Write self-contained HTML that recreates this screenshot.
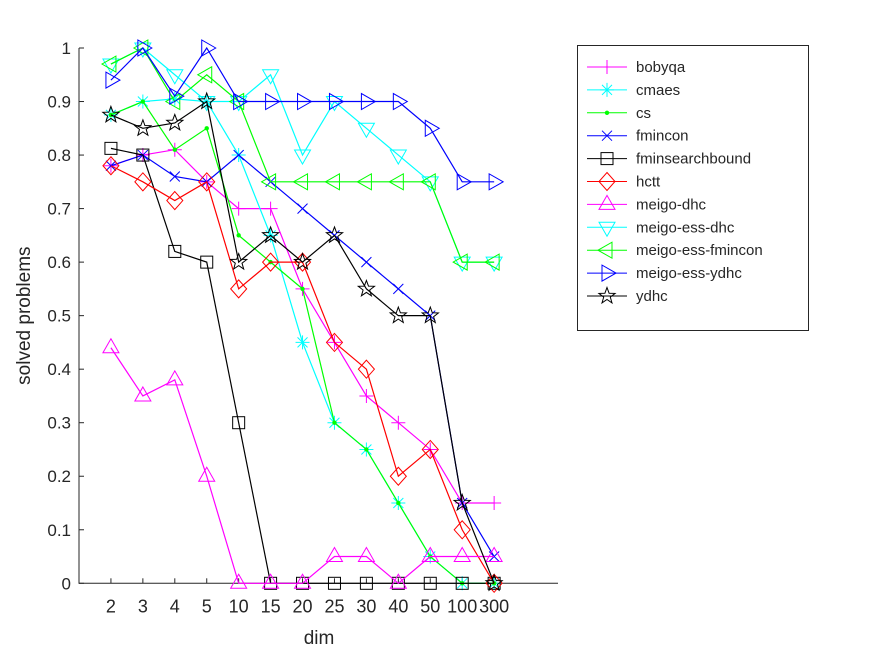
<!DOCTYPE html>
<html><head><meta charset="utf-8"><style>
body{margin:0;background:#fff}
svg text{font-family:"Liberation Sans",Arial,sans-serif;fill:#262626}
</style></head><body>
<svg id="c" width="875" height="656" xmlns="http://www.w3.org/2000/svg"></svg>
<script>
const categories=["2","3","4","5","10","15","20","25","30","40","50","100","300"];
const yTicks=[0,0.1,0.2,0.3,0.4,0.5,0.6,0.7,0.8,0.9,1];
const yTickLabels=["0","0.1","0.2","0.3","0.4","0.5","0.6","0.7","0.8","0.9","1"];
const bobyqa=[0.78,0.80,0.81,0.75,0.70,0.70,0.55,0.45,0.35,0.30,0.25,0.15,0.15];
const cmaes=[0.875,0.9,0.905,0.9,0.8,0.65,0.45,0.3,0.25,0.15,0.05,0,0];
const cs=[0.875,0.9,0.81,0.85,0.65,0.6,0.55,0.3,0.25,0.15,0.05,0,0];
const fmincon=[0.78,0.80,0.76,0.75,0.80,0.75,0.70,0.65,0.60,0.55,0.50,0.15,0.05];
const fminsearchbound=[0.8125,0.80,0.62,0.60,0.30,0,0,0,0,0,0,0,0];
const hctt=[0.78,0.75,0.715,0.75,0.55,0.60,0.60,0.45,0.40,0.20,0.25,0.10,0];
const meigoDhc=[0.44,0.35,0.38,0.20,0,0,0,0.05,0.05,0,0.05,0.05,0.05];
const meigoEssDhc=[0.97,1.0,0.95,0.90,0.90,0.95,0.80,0.90,0.85,0.80,0.75,0.60,0.60];
const meigoEssFmincon=[0.97,1.0,0.90,0.95,0.90,0.75,0.75,0.75,0.75,0.75,0.75,0.60,0.60];
const meigoEssYdhc=[0.94,1.0,0.91,1.0,0.90,0.90,0.90,0.90,0.90,0.90,0.85,0.75,0.75];
const ydhc=[0.875,0.85,0.86,0.90,0.60,0.65,0.60,0.65,0.55,0.50,0.50,0.15,0];
const seriesNames=["bobyqa","cmaes","cs","fmincon","fminsearchbound","hctt","meigo-dhc","meigo-ess-dhc","meigo-ess-fmincon","meigo-ess-ydhc","ydhc"];
const seriesData=[bobyqa,cmaes,cs,fmincon,fminsearchbound,hctt,meigoDhc,meigoEssDhc,meigoEssFmincon,meigoEssYdhc,ydhc];
const colors=["#ff00ff","#00ffff","#00ff00","#0000ff","#000000","#ff0000","#ff00ff","#00ffff","#00ff00","#0000ff","#000000"];
const markers=["plus","star","dot","x","square","diamond","up","down","left","right","pent"];

const NS="http://www.w3.org/2000/svg";
const svg=document.getElementById('c');
const L=79,R=558,T=48,B=583.3;
const xS=i=>L+(i+1)*(R-L)/15;
const yS=v=>B-v*(B-T);
function el(t,a,p){const e=document.createElementNS(NS,t);for(const k in a)e.setAttribute(k,a[k]);(p||svg).appendChild(e);return e;}
function marker(type,x,y,c,g){
  const s=7;let e;
  if(type==="plus")e=el('path',{d:`M${x-s} ${y}H${x+s}M${x} ${y-s}V${y+s}`,stroke:c,fill:'none'},g);
  else if(type==="x")e=el('path',{d:`M${x-5} ${y-5}L${x+5} ${y+5}M${x-5} ${y+5}L${x+5} ${y-5}`,stroke:c,fill:'none'},g);
  else if(type==="star")e=el('path',{d:`M${x-s} ${y}H${x+s}M${x} ${y-s}V${y+s}M${x-5} ${y-5}L${x+5} ${y+5}M${x-5} ${y+5}L${x+5} ${y-5}`,stroke:c,fill:'none'},g);
  else if(type==="dot")e=el('circle',{cx:x,cy:y,r:2.2,fill:c},g);
  else if(type==="square")e=el('rect',{x:x-6,y:y-6,width:12,height:12,stroke:c,fill:'none'},g);
  else if(type==="diamond")e=el('path',{d:`M${x} ${y-9}L${x+8} ${y}L${x} ${y+9}L${x-8} ${y}Z`,stroke:c,fill:'none'},g);
  else if(type==="up")e=el('path',{d:`M${x} ${y-9}L${x+8} ${y+5}L${x-8} ${y+5}Z`,stroke:c,fill:'none'},g);
  else if(type==="down")e=el('path',{d:`M${x} ${y+9}L${x+8} ${y-5}L${x-8} ${y-5}Z`,stroke:c,fill:'none'},g);
  else if(type==="left")e=el('path',{d:`M${x-9} ${y}L${x+5} ${y-8}L${x+5} ${y+8}Z`,stroke:c,fill:'none'},g);
  else if(type==="right")e=el('path',{d:`M${x+9} ${y}L${x-5} ${y-8}L${x-5} ${y+8}Z`,stroke:c,fill:'none'},g);
  else {let p=[];for(let k=0;k<10;k++){const r=k%2?3.5:8.5,a=-Math.PI/2+k*Math.PI/5;p.push((x+r*Math.cos(a)).toFixed(1)+','+(y+r*Math.sin(a)).toFixed(1));}
    e=el('polygon',{points:p.join(' '),stroke:c,fill:'none'},g);}
  
  
}
const ax=el('path',{d:`M${L} ${T}V${B}H${R}`,stroke:'#262626',fill:'none'});


yTicks.forEach((v,i)=>{
  const tk=el('path',{d:`M${L} ${yS(v)}H${L+5}`,stroke:'#262626'});
  
  
  const t=el('text',{x:L-8,y:yS(v)+6,'text-anchor':'end','font-size':17});
  t.textContent=yTickLabels[i];
  
  
});
categories.forEach((c,i)=>{
  const tk=el('path',{d:`M${xS(i)} ${B}V${B-5}`,stroke:'#262626'});
  
  
  const t=el('text',{x:xS(i),y:B+29,'text-anchor':'middle','font-size':18});
  t.textContent=c;
  
  
});
const xl=el('text',{x:319,y:644,'text-anchor':'middle','font-size':19});xl.textContent='dim';


const yl=el('text',{x:0,y:0,'text-anchor':'middle','font-size':19,transform:`translate(30,${(T+B)/2}) rotate(-90)`});yl.textContent='solved problems';


seriesData.forEach((d,s)=>{
  const g=el('g',{});
  
  
  const ln=el('polyline',{points:d.map((v,i)=>xS(i)+','+yS(v)).join(' '),stroke:colors[s],fill:'none','stroke-width':1.2},g);
  
  
  d.forEach((v,i)=>marker(markers[s],xS(i),yS(v),colors[s],g));
});
const lg=el('g',{});


const box=el('rect',{x:577.5,y:45.5,width:231,height:285,fill:'#fff',stroke:'#262626'},lg);


seriesNames.forEach((n,s)=>{
  const y=67+s*22.9;
  const e=el('g',{},lg);
  
  
  el('path',{d:`M587 ${y}H627`,stroke:colors[s]},e);
  marker(markers[s],607,y,colors[s],e);
  const t=el('text',{x:636,y:y+5,'font-size':15},e);t.textContent=n;
  
  
});
</script>
</body></html>
